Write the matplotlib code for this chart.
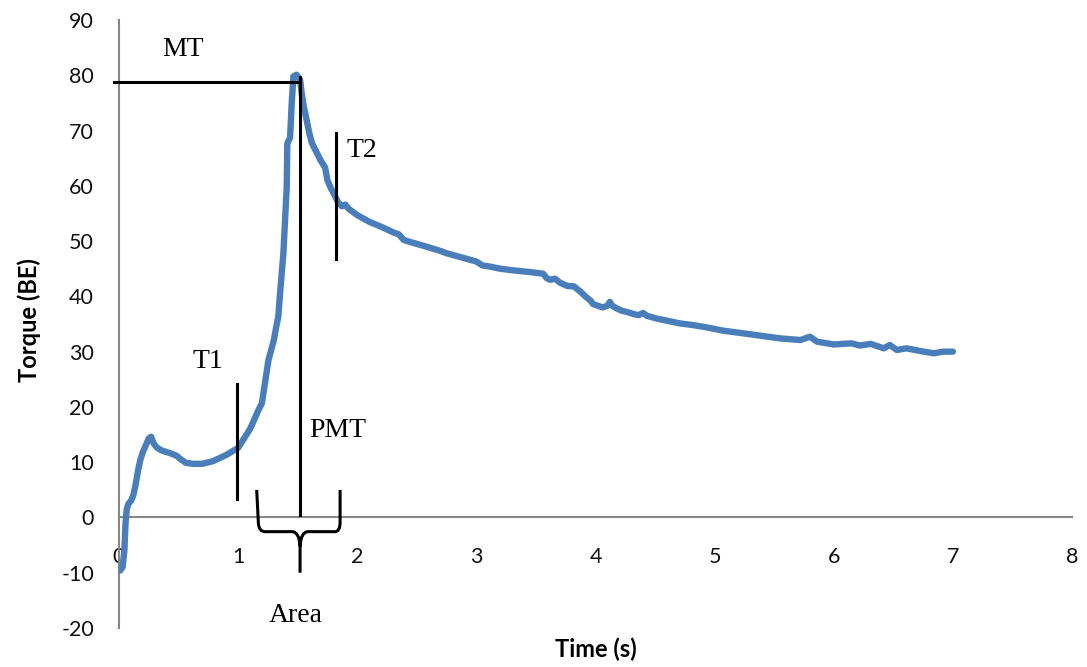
import matplotlib
matplotlib.use("Agg")
import matplotlib.pyplot as plt
from matplotlib.path import Path
from matplotlib.patches import PathPatch

# ---- data ----
time_s = [0.01, 0.03, 0.045, 0.055, 0.065, 0.08, 0.10, 0.12, 0.14, 0.16, 0.18, 0.20,
          0.22, 0.25, 0.27, 0.29, 0.32, 0.36, 0.42, 0.48, 0.52, 0.56, 0.62, 0.70, 0.79,
          0.90, 1.00, 1.10, 1.17, 1.20, 1.23, 1.255, 1.30, 1.32, 1.337, 1.35, 1.38,
          1.408, 1.413, 1.436, 1.45, 1.464, 1.49, 1.52, 1.535, 1.55, 1.575, 1.60, 1.62,
          1.66, 1.69, 1.73, 1.75, 1.78, 1.81, 1.84, 1.87, 1.90, 1.93, 2.00, 2.10, 2.20,
          2.30, 2.35, 2.39, 2.45, 2.58, 2.70, 2.75, 2.90, 3.00, 3.05, 3.11, 3.20, 3.31,
          3.45, 3.56, 3.59, 3.62, 3.66, 3.70, 3.76, 3.82, 3.87, 3.92, 3.96, 3.98, 4.02,
          4.06, 4.10, 4.12, 4.14, 4.18, 4.22, 4.26, 4.32, 4.36, 4.40, 4.43, 4.51, 4.60,
          4.71, 4.82, 4.93, 5.07, 5.21, 5.38, 5.55, 5.72, 5.80, 5.86, 6.00, 6.15, 6.22,
          6.31, 6.42, 6.47, 6.53, 6.61, 6.73, 6.84, 6.92, 7.00]
torque = [-9.6, -9.0, -6.0, -1.0, 1.5, 2.5, 3.0, 4.0, 6.0, 8.5, 10.5, 11.8,
          12.8, 14.3, 14.6, 13.4, 12.6, 12.1, 11.7, 11.2, 10.5, 9.9, 9.7, 9.7, 10.2,
          11.3, 12.6, 16.0, 19.4, 20.7, 25.0, 28.5, 32.1, 34.5, 36.3, 40.0, 47.8,
          59.8, 67.7, 68.7, 75.0, 79.8, 80.1, 79.2, 76.5, 74.5, 71.9, 69.3, 67.7,
          66.0, 64.7, 63.3, 61.0, 59.5, 58.3, 57.0, 56.3, 56.6, 55.8, 54.7, 53.5, 52.6,
          51.6, 51.2, 50.2, 49.8, 49.0, 48.2, 47.8, 46.9, 46.3, 45.6, 45.4, 45.0, 44.7,
          44.4, 44.1, 43.3, 43.0, 43.2, 42.5, 41.9, 41.8, 40.9, 39.9, 39.2, 38.6, 38.3,
          38.0, 38.3, 39.0, 38.3, 37.8, 37.4, 37.2, 36.8, 36.6, 37.0, 36.5, 36.0, 35.6,
          35.1, 34.8, 34.4, 33.8, 33.4, 32.9, 32.4, 32.1, 32.7, 31.8, 31.3, 31.5, 31.1,
          31.4, 30.6, 31.2, 30.3, 30.6, 30.1, 29.7, 30.0, 30.0]

x_ticks = [0, 1, 2, 3, 4, 5, 6, 7, 8]
y_ticks = [-20, -10, 0, 10, 20, 30, 40, 50, 60, 70, 80, 90]
x_label = "Time (s)"
y_label = "Torque (BE)"

# annotation values
mt_value = 78.8
peak_time = 1.52
t1_time = 0.993
t2_time = 1.822

# ---- figure ----
fig = plt.figure(figsize=(10.87, 6.67), dpi=100)
ax = fig.add_axes([119 / 1087, 1 - 628 / 667, (1072 - 119) / 1087, (628 - 20) / 667])

ax.plot(time_s, torque, color="#4A7EBB", lw=4.6, solid_capstyle="round",
        solid_joinstyle="round", zorder=3)

ax.set_xlim(0, 8)
ax.set_ylim(-20, 90)
ax.set_xticks(x_ticks)
ax.set_yticks(y_ticks)
ax.set_xticklabels([str(v) for v in x_ticks])
ax.set_yticklabels([str(v) for v in y_ticks])

for s in ["top", "right"]:
    ax.spines[s].set_visible(False)
ax.spines["bottom"].set_position(("data", 0))
for s in ["left", "bottom"]:
    ax.spines[s].set_color("#868686")
    ax.spines[s].set_linewidth(1.5)

ax.tick_params(axis="both", length=0, colors="#111111", labelsize=15.5)
ax.tick_params(axis="x", pad=21)
ax.tick_params(axis="y", pad=18)
for lab in ax.get_xticklabels() + ax.get_yticklabels():
    lab.set_fontfamily("Lato")

ax.set_xlabel(x_label, fontfamily="Lato", fontweight="bold", fontsize=17)
ax.set_ylabel(y_label, fontfamily="Lato", fontweight="bold", fontsize=17)
ax.xaxis.set_label_coords((596 - 119) / 953, (628 - 638) / 608)
ax.yaxis.set_label_coords((41 - 119) / 953, (628 - 320) / 608)

# ---- annotations ----
blk = dict(color="black", lw=2.2, zorder=4, clip_on=False)
ax.plot([-0.04, 1.50], [mt_value, mt_value], **blk)
ax.plot([peak_time, peak_time], [79.6, 0.4], **blk)
ax.plot([t1_time, t1_time], [24.1, 3.3], **blk)
ax.plot([t2_time, t2_time], [69.6, 46.7], **blk)

serif = dict(family="Liberation Serif", size=20, color="black")
ax.text(0.533, 84.6, "MT", ha="center", va="center", **serif)
ax.text(0.75, 28.2, "T1", ha="center", va="center", **serif)
ax.text(1.60, 15.8, "PMT", ha="left", va="center", **serif)
ax.text(1.91, 66.3, "T2", ha="left", va="center", **serif)
ax.text(1.486, -17.8, "Area", ha="center", va="center", **serif)

# brace
verts = [(1.156, 4.98), (1.170, -1.05),
         (1.175, -2.57), (1.226, -2.57),
         (1.450, -2.57),
         (1.515, -2.57), (1.520, -5.28),
         (1.520, -10.0),
         (1.520, -5.28), (1.525, -2.57),
         (1.589, -2.57),
         (1.814, -2.57),
         (1.852, -2.57), (1.856, -1.05),
         (1.856, 4.98)]
codes = [Path.MOVETO, Path.LINETO,
         Path.CURVE3, Path.CURVE3,
         Path.LINETO,
         Path.CURVE3, Path.CURVE3,
         Path.LINETO,
         Path.MOVETO, Path.CURVE3, Path.CURVE3,
         Path.LINETO,
         Path.CURVE3, Path.CURVE3,
         Path.LINETO]
ax.add_patch(PathPatch(Path(verts, codes), fill=False, edgecolor="black", lw=2.2,
                       zorder=4, clip_on=False))

fig.savefig("out.png", dpi=100)
